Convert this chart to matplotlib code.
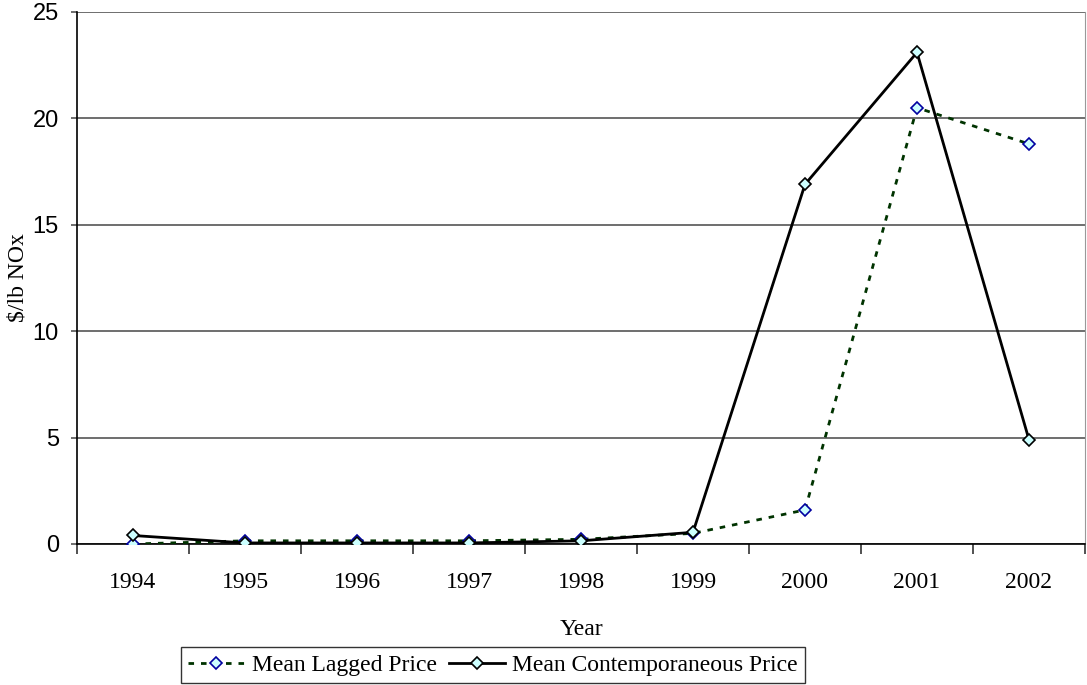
import numpy as np
import matplotlib.pyplot as plt

years = ["1994", "1995", "1996", "1997", "1998", "1999", "2000", "2001", "2002"]
lagged = [0.0, 0.15, 0.15, 0.15, 0.22, 0.5, 1.6, 20.5, 18.8]
contemp = [0.4, 0.05, 0.05, 0.05, 0.15, 0.55, 16.9, 23.1, 4.9]

serif = "Liberation Serif"
fig = plt.figure(figsize=(10.87, 6.85), dpi=100)
ax = fig.add_axes([77 / 1087, 1 - 544 / 685, 1008 / 1087, 532 / 685])

x = np.arange(len(years))
ax.plot(x, lagged, color="#003300", lw=2, ls=(0, (2, 2.5)), marker="D", ms=6,
        mfc="#CCFFFF", mec="#0000A0", mew=1.2, label="Mean Lagged Price", zorder=3)
ax.plot(x, contemp, color="black", lw=2, marker="D", ms=6,
        mfc="#CCFFFF", mec="black", mew=1.2, label="Mean Contemporaneous Price", zorder=4)

ax.set_xlim(-0.5, len(years) - 0.5)
ax.set_ylim(0, 25)
ax.set_yticks([0, 5, 10, 15, 20, 25])
ax.yaxis.grid(True, color="#555555", lw=1.2)
ax.set_axisbelow(True)

ax.set_xticks(x)
ax.set_xticklabels(years, fontfamily=serif, fontsize=17)
ax.set_xticks(np.arange(-0.5, len(years)), minor=True)
ax.tick_params(axis="x", which="major", length=0, pad=20)
ax.tick_params(axis="x", which="minor", length=7, width=1.2, color="#333333", direction="out")
ax.tick_params(axis="y", length=4, width=1.2, color="#555555", labelsize=17, pad=9)
for lab in ax.get_yticklabels():
    lab.set_fontfamily("Liberation Sans")

ax.spines["top"].set_visible(False)
ax.spines["right"].set_color("#999999")
ax.spines["left"].set_linewidth(1.2)
ax.spines["bottom"].set_linewidth(1.2)

ax.set_xlabel("Year", fontfamily=serif, fontsize=17, labelpad=19)
ax.set_ylabel("$/lb NOx", fontfamily=serif, fontsize=17, va="center")
ax.yaxis.set_label_coords(-59 / 1008, 0.5)

leg = ax.legend(loc="center", bbox_to_anchor=((493 - 77) / 1008, (544 - 665) / 532), ncol=2,
                frameon=True, fancybox=False, edgecolor="black", handlelength=2.4,
                handletextpad=0.3, columnspacing=0.5, borderpad=0.3,
                prop={"family": serif, "size": 17})
leg.get_frame().set_linewidth(1.0)

fig.savefig("out.png", dpi=100)
